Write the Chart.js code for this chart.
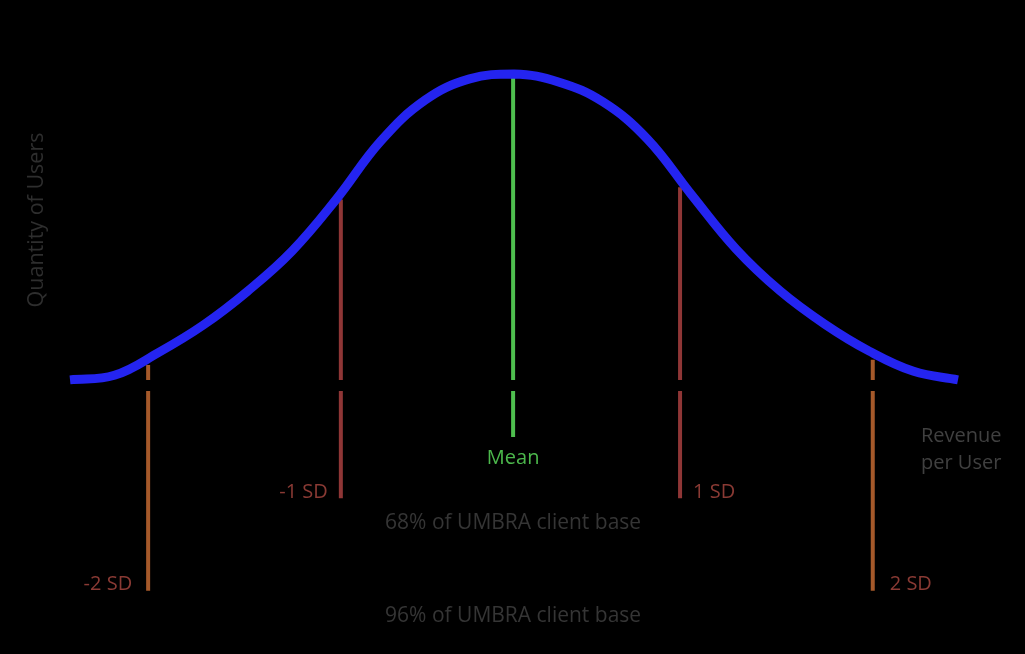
<!DOCTYPE html>
<html>
<head>
<meta charset="utf-8">
<script src="https://cdn.jsdelivr.net/npm/chart.js@4.4.4/dist/chart.umd.min.js"></script>
<style>
  html, body { margin: 0; padding: 0; background: #000; }
  canvas { display: block; }
</style>
</head>
<body>
<canvas id="bell" width="1025" height="654"></canvas>
<script>
// Revenue per user (arbitrary 0-100 scale) vs quantity of users (0-100)
const curveX = [0, 5, 10, 15, 20, 25, 30, 35, 40, 45, 50,
  55, 60, 65, 70, 75, 80, 85, 90, 95, 100]
const curveY = [0, 1.5, 9.0, 17.9, 29.0, 42.1, 59.1, 78.1, 91.5, 98.4, 100,
  97.4, 90.9, 78.8, 60.5, 42.8, 29.0, 18.2, 9.4, 2.8, 0]

// standard deviation markers
const sdNames = ["-2 SD", "-1 SD", "Mean", "1 SD", "2 SD"]
const sdX = [8.8, 30.5, 49.9, 68.7, 90.4]
const sdTop = [4.9, 59, 99, 63, 6.6]
const sdBottom = [-68.9, -38.7, -18.7, -38.7, -68.9]
const gapTop = 0
const gapBottom = -3.6

const shareTexts = ["68% of UMBRA client base", "96% of UMBRA client base"]
const xTitle = ["Revenue", "per User"]
const yTitle = "Quantity of Users"

const sdColors = ["#a5592a", "#8f3636", "#4fbf4f", "#8f3636", "#a5592a"]
const sdTextColors = ["#8a3a34", "#8a3a34", "#4cb84c", "#8a3a34", "#8a3a34"]
const FONT = "'Open Sans', 'Noto Sans', sans-serif"

const markerSets = sdNames.map((name, i) => ({
  label: name,
  data: [
    {x: sdX[i], y: sdTop[i]},
    {x: sdX[i], y: gapTop},
    {x: sdX[i], y: null},
    {x: sdX[i], y: gapBottom},
    {x: sdX[i], y: sdBottom[i]}
  ],
  borderColor: sdColors[i],
  borderWidth: 4,
  borderCapStyle: "butt",
  pointRadius: 0,
  tension: 0,
  spanGaps: false,
  clip: false,
  order: 1
}))

// labels drawn on top of the chart, anchored to the marker values
const labelPlugin = {
  id: "bellLabels",
  afterDatasetsDraw(chart) {
    const {ctx, scales: {x, y}} = chart
    ctx.save()
    ctx.font = `20px ${FONT}`
    ctx.textBaseline = "middle"

    sdNames.forEach((name, i) => {
      const px = x.getPixelForValue(sdX[i])
      const pb = y.getPixelForValue(sdBottom[i])
      ctx.fillStyle = sdTextColors[i]
      if (sdX[i] < 49) {
        ctx.textAlign = "right"
        ctx.fillText(name, px - (i === 0 ? 16 : 13), pb - 6)
      } else if (sdX[i] > 51) {
        ctx.textAlign = "left"
        ctx.fillText(name, px + (i === 4 ? 17 : 13), pb - 6)
      } else {
        ctx.textAlign = "center"
        ctx.fillText(name, px, pb + 21)
      }
    })

    // share of client base texts, centred on the mean
    const mx = x.getPixelForValue(sdX[2])
    ctx.font = `21px ${FONT}`
    ctx.fillStyle = "#353535"
    ctx.textAlign = "center"
    ctx.fillText(shareTexts[0], mx, y.getPixelForValue(sdBottom[1]) + 25)
    ctx.fillText(shareTexts[1], mx, y.getPixelForValue(sdBottom[0]) + 25)

    // axis titles
    ctx.font = `20px ${FONT}`
    ctx.fillStyle = "#404040"
    ctx.textAlign = "left"
    ctx.fillText(xTitle[0], 921, 436)
    ctx.fillText(xTitle[1], 921, 463)

    ctx.font = `21.5px ${FONT}`
    ctx.fillStyle = "#2e2e2e"
    ctx.translate(37, 220)
    ctx.rotate(-Math.PI / 2)
    ctx.textAlign = "center"
    ctx.fillText(yTitle, 0, 0)
    ctx.restore()
  }
}

new Chart(document.getElementById("bell"), {
  type: "line",
  data: {
    datasets: [
      {
        label: "Users",
        data: curveX.map((v, i) => ({x: v, y: curveY[i]})),
        borderColor: "#2424f0",
        borderWidth: 9,
        borderCapStyle: "butt",
        borderJoinStyle: "round",
        tension: 0.4,
        pointRadius: 0,
        clip: false,
        order: 0
      },
      ...markerSets
    ]
  },
  options: {
    responsive: false,
    animation: false,
    layout: { padding: { left: 70, right: 67, top: 74, bottom: 60 } },
    plugins: {
      legend: { display: false },
      tooltip: { enabled: false }
    },
    scales: {
      x: { type: "linear", min: 0, max: 100, display: false },
      y: { min: -70, max: 100, display: false }
    }
  },
  plugins: [labelPlugin]
})
</script>
</body>
</html>
